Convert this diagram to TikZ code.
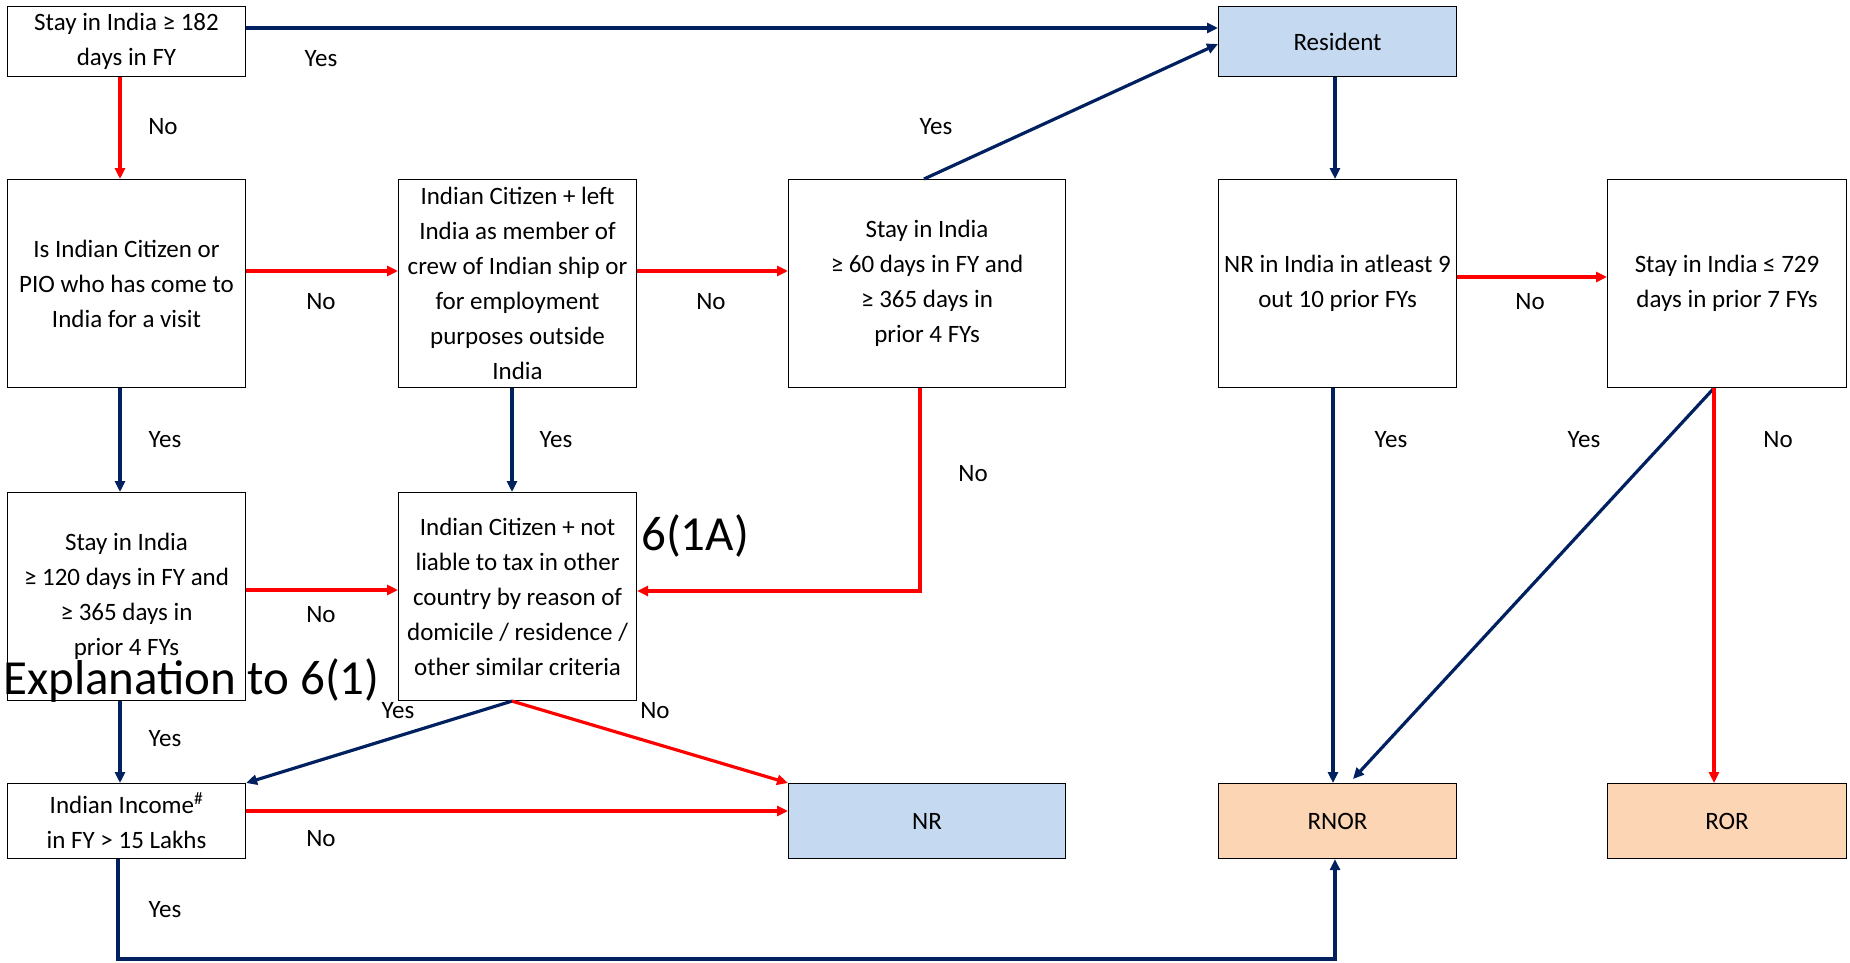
\documentclass[tikz,border=0pt]{standalone}
\usepackage{fontspec}
\setmainfont{Carlito}
\usetikzlibrary{arrows.meta}
\definecolor{navy}{RGB}{0,32,96}
\definecolor{rred}{RGB}{255,0,0}
\definecolor{lblue}{RGB}{197,217,241}
\definecolor{peach}{RGB}{252,213,180}
\begin{document}
\begin{tikzpicture}[x=1pt,y=-1pt,
  box/.style={draw=black, line width=1.1pt, align=center, inner sep=0pt, anchor=north west,
    font=\fontsize{25}{35}\selectfont},
  yesar/.style={draw=navy, line width=3.2pt, -{Triangle[length=11pt,width=10pt]}},
  noar/.style={draw=rred, line width=3.2pt, -{Triangle[length=11pt,width=10pt]}},
  lbl/.style={font=\fontsize{25}{28}\selectfont, inner sep=0pt},
  big/.style={font=\fontsize{49}{54}\selectfont, inner sep=0pt}
]
\useasboundingbox (0,0) rectangle (1850,963);
% boxes
\node[box, minimum width=238pt, minimum height=70pt] (A) at (7,6) {Stay in India ≥ 182\\days in FY};
\node[box, fill=lblue, minimum width=238pt, minimum height=70pt] (Res) at (1218,6) {Resident};
\node[box, minimum width=238pt, minimum height=208pt] (B) at (7,179) {Is Indian Citizen or\\PIO who has come to\\India for a visit};
\node[box, minimum width=238pt, minimum height=208pt] (C) at (398,179) {Indian Citizen + left\\India as member of\\crew of Indian ship or\\for employment\\purposes outside\\India};
\node[box, minimum width=277pt, minimum height=208pt] (D) at (788,179) {Stay in India\\≥ 60 days in FY and\\≥ 365 days in\\prior 4 FYs};
\node[box, minimum width=238pt, minimum height=208pt] (E) at (1218,179) {NR in India in atleast 9\\out 10 prior FYs};
\node[box, minimum width=239pt, minimum height=208pt] (F) at (1607,179) {Stay in India ≤ 729\\days in prior 7 FYs};
\node[box, minimum width=238pt, minimum height=208pt] (G) at (7,492) {Stay in India\\≥ 120 days in FY and\\≥ 365 days in\\prior 4 FYs};
\node[box, minimum width=238pt, minimum height=208pt] (H) at (398,492) {Indian Citizen + not\\liable to tax in other\\country by reason of\\domicile / residence /\\other similar criteria};
\node[box, minimum width=238pt, minimum height=75pt] (I) at (7,783) {Indian Income\textsuperscript{\#}\\in FY > 15 Lakhs};
\node[box, fill=lblue, minimum width=277pt, minimum height=75pt] (NR) at (788,783) {NR};
\node[box, fill=peach, minimum width=238pt, minimum height=75pt] (RNOR) at (1218,783) {RNOR};
\node[box, fill=peach, minimum width=239pt, minimum height=75pt] (ROR) at (1607,783) {ROR};
% annotations
\node[big, anchor=west] (n61a) at (641,536) {6(1A)};
\node[big, anchor=west] (nexp) at (3,681) {Explanation to 6(1)};
% connectors
\draw[yesar] (A.east |- 0,28) -- (Res.west |- 0,28);
\draw[noar] (A.south -| 120,0) -- (B.north -| 120,0);
\draw[noar] (B.east |- 0,271) -- (C.west |- 0,271);
\draw[noar] (C.east |- 0,271) -- (D.west |- 0,271);
\draw[yesar] (D.north -| 924,0) -- (Res.west |- 0,44);
\draw[yesar] (Res.south -| 1335,0) -- (E.north -| 1335,0);
\draw[noar] (E.east |- 0,277) -- (F.west |- 0,277);
\draw[yesar] (B.south -| 120,0) -- (G.north -| 120,0);
\draw[yesar] (C.south -| 512,0) -- (H.north -| 512,0);
\draw[noar] (D.south -| 920,0) -- (920,591) -- (H.east |- 0,591);
\draw[noar] (G.east |- 0,590) -- (H.west |- 0,590);
\draw[yesar] (E.south -| 1333,0) -- (RNOR.north -| 1333,0);
\draw[yesar] (F.south -| 1714,0) -- (1353,779);
\draw[noar] (F.south -| 1714,0) -- (ROR.north -| 1714,0);
\draw[yesar] (G.south -| 120,0) -- (I.north -| 120,0);
\draw[yesar] (H.south -| 512,0) -- (I.north east);
\draw[noar] (H.south -| 512,0) -- (NR.north west);
\draw[noar] (I.east |- 0,811) -- (NR.west |- 0,811);
\draw[yesar] (I.south -| 118,0) -- (118,959) -- (1335,959) -- (RNOR.south -| 1335,0);
% labels
\node[lbl] (l1) at (321,59) {Yes};
\node[lbl] (l2) at (163,127) {No};
\node[lbl] (l3) at (321,302) {No};
\node[lbl] (l4) at (711,302) {No};
\node[lbl] (l5) at (936,127) {Yes};
\node[lbl] (l6) at (1530,302) {No};
\node[lbl] (l7) at (165,440) {Yes};
\node[lbl] (l8) at (556,440) {Yes};
\node[lbl] (l9) at (973,474) {No};
\node[lbl] (l10) at (321,615) {No};
\node[lbl] (l11) at (1391,440) {Yes};
\node[lbl] (l12) at (1584,440) {Yes};
\node[lbl] (l13) at (1778,440) {No};
\node[lbl] (l14) at (165,739) {Yes};
\node[lbl] (l15) at (398,711) {Yes};
\node[lbl] (l16) at (655,711) {No};
\node[lbl] (l17) at (321,839) {No};
\node[lbl] (l18) at (165,910) {Yes};
\end{tikzpicture}
\end{document}
